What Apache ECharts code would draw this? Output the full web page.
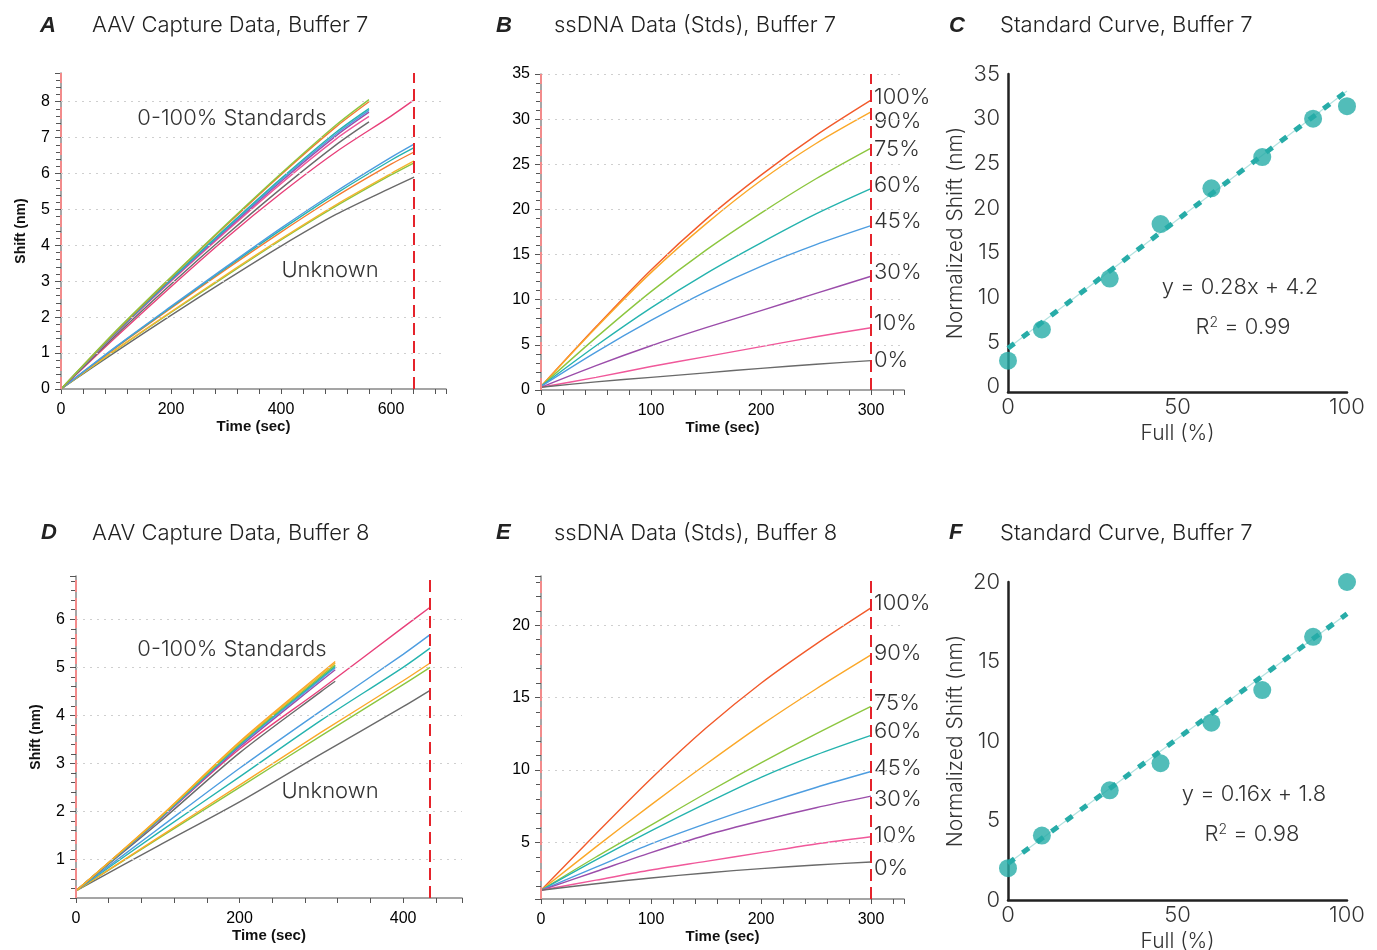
<!DOCTYPE html>
<html>
<head>
<meta charset="utf-8">
<script src="https://cdn.jsdelivr.net/npm/echarts@6/dist/echarts.min.js"></script>
<style>
  html, body { margin: 0; padding: 0; background: #fff; }
  #main { width: 1377px; height: 950px; }
</style>
</head>
<body>
<div id="main"></div>
<script>
// ---- data ----
// A: AAV capture, buffer 7
var aTimeStd = [0, 100, 200, 300, 400, 500, 560];
var aStdGreen = [0, 1.62, 3.12, 4.58, 6.0, 7.35, 8.06];
var aStdOrange = [0, 1.6, 3.1, 4.55, 5.97, 7.3, 8.0];
var aStdTeal = [0, 1.58, 3.06, 4.48, 5.86, 7.15, 7.81];
var aStdBlue = [0, 1.57, 3.04, 4.45, 5.82, 7.1, 7.76];
var aStdPurple = [0, 1.56, 3.02, 4.42, 5.78, 7.05, 7.71];
var aStdPink = [0, 1.55, 3.0, 4.38, 5.72, 6.96, 7.59];
var aStdGray = [0, 1.5, 2.92, 4.28, 5.58, 6.8, 7.44];
var aTimeUnk = [0, 100, 200, 300, 400, 500, 600, 642];
var aUnkMagenta = [0, 1.45, 2.85, 4.2, 5.45, 6.6, 7.6, 8.05];
var aUnkBlue = [0, 1.18, 2.3, 3.4, 4.48, 5.5, 6.45, 6.82];
var aUnkTeal = [0, 1.17, 2.28, 3.37, 4.43, 5.44, 6.37, 6.72];
var aUnkOrange = [0, 1.15, 2.25, 3.33, 4.37, 5.36, 6.26, 6.6];
var aUnkYellow = [0, 1.1, 2.15, 3.18, 4.18, 5.13, 6.0, 6.35];
var aUnkGreen = [0, 1.09, 2.13, 3.15, 4.15, 5.09, 5.96, 6.3];
var aUnkGray = [0, 1.04, 2.05, 3.03, 3.98, 4.86, 5.6, 5.9];
var aYTicks = [1, 2, 3, 4, 5, 6, 7, 8];

// B: ssDNA standards, buffer 7
var pctNames = ['100%', '90%', '75%', '60%', '45%', '30%', '10%', '0%'];
var bTime = [0, 50, 100, 150, 200, 250, 300];
var b100 = [0.4, 7.0, 13.3, 18.9, 23.8, 28.2, 32.1];
var b90 = [0.4, 6.9, 13.0, 18.4, 23.2, 27.3, 30.8];
var b75 = [0.4, 5.8, 10.9, 15.5, 19.6, 23.4, 26.8];
var b60 = [0.4, 4.9, 9.1, 12.9, 16.3, 19.5, 22.3];
var b45 = [0.4, 4.2, 7.7, 10.9, 13.7, 16.1, 18.2];
var b30 = [0.3, 2.7, 4.9, 6.9, 8.8, 10.7, 12.6];
var b10 = [0.3, 1.4, 2.6, 3.7, 4.8, 5.9, 6.9];
var b0 = [0.3, 0.9, 1.4, 1.9, 2.4, 2.85, 3.25];
var bYTicks = [5, 10, 15, 20, 25, 30, 35];

// C / F: standard curves
var fullPct = [0, 10, 30, 45, 60, 75, 90, 100];
var cShift = [2.9, 6.4, 12.1, 18.2, 22.2, 25.7, 30.0, 31.4];
var fitX = [0, 100];
var cFitY = [4.3, 33.1];
var fShift = [2.0, 4.05, 6.9, 8.6, 11.15, 13.2, 16.55, 20.0];
var fFitY = [2.3, 18.0];

// D: AAV capture, buffer 8
var dTimeStd = [0, 100, 200, 300, 317];
var dStdOrange = [0.35, 1.85, 3.45, 4.88, 5.12];
var dStdYellow = [0.35, 1.84, 3.43, 4.85, 5.09];
var dStdGreen = [0.35, 1.83, 3.41, 4.82, 5.05];
var dStdTeal = [0.35, 1.82, 3.39, 4.79, 5.02];
var dStdBlue = [0.35, 1.81, 3.37, 4.76, 4.99];
var dStdPurple = [0.35, 1.8, 3.34, 4.72, 4.95];
var dStdGray = [0.35, 1.75, 3.22, 4.5, 4.71];
var dTimeUnk = [0, 100, 200, 300, 400, 433];
var dUnkPink = [0.35, 1.8, 3.3, 4.55, 5.83, 6.25];
var dUnkBlue = [0.35, 1.63, 2.9, 4.1, 5.27, 5.68];
var dUnkTeal = [0.35, 1.55, 2.72, 3.9, 5.0, 5.4];
var dUnkOrange = [0.35, 1.45, 2.55, 3.65, 4.72, 5.09];
var dUnkGreen = [0.35, 1.43, 2.5, 3.58, 4.64, 5.0];
var dUnkGray = [0.35, 1.28, 2.2, 3.2, 4.18, 4.52];
var dYTicks = [1, 2, 3, 4, 5, 6];

// E: ssDNA standards, buffer 8
var eTime = [0, 50, 100, 150, 200, 250, 300];
var e100 = [1.7, 5.6, 9.4, 12.9, 16.0, 18.7, 21.2];
var e90 = [1.7, 4.7, 7.6, 10.4, 13.1, 15.6, 17.95];
var e75 = [1.7, 4.0, 6.2, 8.4, 10.5, 12.5, 14.4];
var e60 = [1.7, 3.8, 5.8, 7.7, 9.5, 11.05, 12.4];
var e45 = [1.7, 3.3, 4.9, 6.3, 7.6, 8.8, 9.9];
var e30 = [1.7, 3.0, 4.3, 5.5, 6.5, 7.4, 8.2];
var e10 = [1.7, 2.4, 3.1, 3.7, 4.3, 4.9, 5.4];
var e0 = [1.7, 2.15, 2.55, 2.9, 3.2, 3.45, 3.65];
var eYTicks = [5, 10, 15, 20];

// ---- styles ----
var SANS = '"Liberation Sans", Arial, sans-serif';
var LIGHT = 'Inter, Lato, "Noto Sans", sans-serif';
var RED = '#f25a2b', ORANGE = '#fba829', YELLOW = '#f3b531', GREEN = '#8cc63f',
    TEAL = '#25b3ae', BLUE = '#4d9de0', PURPLE = '#9b4daa', PINK = '#f0589a',
    MAGENTA = '#e8407a', GRAY = '#6a6a6a', FIT = '#27aca8';
var pctColors = [RED, ORANGE, GREEN, TEAL, BLUE, PURPLE, PINK, GRAY];

function pairs(t, v) {
    return t.map(function (x, i) { return [x, v[i]]; });
}
function onlyStep(step) {
    return function (v) {
        var k = v / step;
        return Math.abs(k - Math.round(k)) < 1e-6 && v >= 0 ? String(Math.round(k) * step) : '';
    };
}

function kinX(idx, max, step) {
    return {
        gridIndex: idx, type: 'value', min: 0, max: max, minInterval: step, maxInterval: step,
        name: 'Time (sec)', nameLocation: 'middle', nameGap: 30,
        nameTextStyle: { fontFamily: SANS, fontSize: 15, fontWeight: 'bold', color: '#111' },
        axisLine: { onZero: false, lineStyle: { color: '#888', width: 1.5 } },
        axisTick: { length: 5, lineStyle: { color: '#555' } },
        minorTick: { show: true, splitNumber: 5, length: 5, lineStyle: { color: '#555' } },
        axisLabel: { fontFamily: SANS, fontSize: 16, color: '#000', margin: 13, formatter: onlyStep(step) },
        splitLine: { show: false }
    };
}
function kinY(idx, min, max, step, name) {
    return {
        gridIndex: idx, type: 'value', min: min, max: max, minInterval: step, maxInterval: step,
        name: name, nameLocation: 'middle', nameGap: 33,
        nameTextStyle: { fontFamily: SANS, fontSize: 14, fontWeight: 'bold', color: '#111' },
        axisLine: { onZero: false, lineStyle: { color: '#888', width: 1.5 } },
        axisTick: { length: 6, lineStyle: { color: '#555' } },
        minorTick: { show: true, splitNumber: 5, length: 5, lineStyle: { color: '#555' } },
        axisLabel: { fontFamily: SANS, fontSize: 16, color: '#000', margin: 11, formatter: onlyStep(step) },
        splitLine: { show: false }
    };
}
function curveX(idx, max, step) {
    return {
        gridIndex: idx, type: 'value', min: 0, max: max, minInterval: step, maxInterval: step,
        name: 'Full (%)', nameLocation: 'middle', nameGap: 31,
        nameTextStyle: { fontFamily: LIGHT, fontWeight: 300, fontSize: 21, color: '#333' },
        axisLine: { onZero: false, lineStyle: { color: '#222', width: 2.5 } },
        axisTick: { show: false },
        axisLabel: { fontFamily: LIGHT, fontWeight: 300, fontSize: 22, color: '#333', margin: 4, formatter: onlyStep(step) },
        splitLine: { show: false }
    };
}
function curveY(idx, min, max, step) {
    return {
        gridIndex: idx, type: 'value', min: min, max: max, minInterval: step, maxInterval: step,
        name: 'Normalized Shift (nm)', nameLocation: 'middle', nameGap: 42,
        nameTextStyle: { fontFamily: LIGHT, fontWeight: 300, fontSize: 21, color: '#333' },
        axisLine: { onZero: false, lineStyle: { color: '#222', width: 2.5 } },
        axisTick: { show: false },
        axisLabel: { fontFamily: LIGHT, fontWeight: 300, fontSize: 22, color: '#333', margin: 8, formatter: onlyStep(step) },
        splitLine: { show: false }
    };
}

var series = [];

function curve(idx, name, color, t, v, endLabel) {
    var s = {
        name: name, type: 'line', xAxisIndex: idx, yAxisIndex: idx,
        data: pairs(t, v), smooth: 0.3, showSymbol: false, symbol: 'none',
        lineStyle: { color: color, width: 1.4 }, z: 3, silent: true
    };
    if (endLabel !== undefined) {
        s.endLabel = {
            show: true, formatter: name, distance: 3, offset: [0, endLabel],
            fontFamily: LIGHT, fontWeight: 300, fontSize: 22, color: '#333'
        };
    }
    series.push(s);
}

// dotted grid lines under the curves, red dashed markers over them
function guides(idx, t, v, yTicks, tEnd) {
    series.push({
        type: 'line', xAxisIndex: idx, yAxisIndex: idx, data: pairs(t, v), symbol: 'none',
        lineStyle: { opacity: 0 }, z: 1, silent: true,
        markLine: {
            silent: true, symbol: 'none', label: { show: false },
            lineStyle: { color: '#cfcfcf', width: 1, type: [2, 5] },
            data: yTicks.map(function (y) { return { yAxis: y }; })
        }
    });
    series.push({
        type: 'line', xAxisIndex: idx, yAxisIndex: idx, data: pairs(t, v), symbol: 'none',
        lineStyle: { opacity: 0 }, z: 5, silent: true,
        markLine: {
            silent: true, symbol: 'none', label: { show: false },
            lineStyle: { width: 2, type: [12, 6] },
            data: [
                { xAxis: 0, lineStyle: { color: '#f28b8b' } },
                { xAxis: tEnd, lineStyle: { color: '#e5232b' } }
            ]
        }
    });
}

// A
guides(0, aTimeStd, aStdGreen, aYTicks, aTimeUnk[aTimeUnk.length - 1]);
curve(0, 'A unk gray', GRAY, aTimeUnk, aUnkGray);
curve(0, 'A unk green', GREEN, aTimeUnk, aUnkGreen);
curve(0, 'A unk yellow', YELLOW, aTimeUnk, aUnkYellow);
curve(0, 'A unk orange', '#f47a30', aTimeUnk, aUnkOrange);
curve(0, 'A unk teal', TEAL, aTimeUnk, aUnkTeal);
curve(0, 'A unk blue', BLUE, aTimeUnk, aUnkBlue);
curve(0, 'A unk magenta', MAGENTA, aTimeUnk, aUnkMagenta);
curve(0, 'A std gray', GRAY, aTimeStd, aStdGray);
curve(0, 'A std pink', PINK, aTimeStd, aStdPink);
curve(0, 'A std purple', PURPLE, aTimeStd, aStdPurple);
curve(0, 'A std blue', BLUE, aTimeStd, aStdBlue);
curve(0, 'A std teal', TEAL, aTimeStd, aStdTeal);
curve(0, 'A std orange', '#f47a30', aTimeStd, aStdOrange);
curve(0, 'A std green', GREEN, aTimeStd, aStdGreen);

// B
guides(1, bTime, b100, bYTicks, bTime[bTime.length - 1]);
var bSets = [b100, b90, b75, b60, b45, b30, b10, b0];
var bOffsets = [-3, 9, 1, -3, -4, -4, -4, 0];
bSets.forEach(function (v, i) { curve(1, pctNames[i], pctColors[i], bTime, v, bOffsets[i]); });

// C
series.push({ type: 'line', xAxisIndex: 2, yAxisIndex: 2, data: pairs(fitX, cFitY), symbol: 'none',
    lineStyle: { color: '#b3e2e0', width: 1.2 }, z: 2, silent: true });
series.push({ type: 'line', xAxisIndex: 2, yAxisIndex: 2, data: pairs(fitX, cFitY), symbol: 'none',
    lineStyle: { color: FIT, width: 5, type: [8, 10], cap: 'butt' }, z: 2, silent: true });
series.push({ type: 'scatter', xAxisIndex: 2, yAxisIndex: 2, data: pairs(fullPct, cShift),
    symbolSize: 18, itemStyle: { color: FIT }, z: 3, silent: true, clip: false });

// D
guides(3, dTimeUnk, dUnkPink, dYTicks, dTimeUnk[dTimeUnk.length - 1]);
curve(3, 'D unk gray', GRAY, dTimeUnk, dUnkGray);
curve(3, 'D unk green', GREEN, dTimeUnk, dUnkGreen);
curve(3, 'D unk orange', ORANGE, dTimeUnk, dUnkOrange);
curve(3, 'D unk teal', TEAL, dTimeUnk, dUnkTeal);
curve(3, 'D unk blue', BLUE, dTimeUnk, dUnkBlue);
curve(3, 'D unk pink', MAGENTA, dTimeUnk, dUnkPink);
curve(3, 'D std gray', GRAY, dTimeStd, dStdGray);
curve(3, 'D std purple', PURPLE, dTimeStd, dStdPurple);
curve(3, 'D std blue', BLUE, dTimeStd, dStdBlue);
curve(3, 'D std teal', TEAL, dTimeStd, dStdTeal);
curve(3, 'D std green', GREEN, dTimeStd, dStdGreen);
curve(3, 'D std yellow', YELLOW, dTimeStd, dStdYellow);
curve(3, 'D std orange', ORANGE, dTimeStd, dStdOrange);

// E
guides(4, eTime, e100, eYTicks, eTime[eTime.length - 1]);
var eSets = [e100, e90, e75, e60, e45, e30, e10, e0];
var eOffsets = [-4, -2, -3, -4, -3, 3, -1, 6];
eSets.forEach(function (v, i) { curve(4, pctNames[i], pctColors[i], eTime, v, eOffsets[i]); });

// F
series.push({ type: 'line', xAxisIndex: 5, yAxisIndex: 5, data: pairs(fitX, fFitY), symbol: 'none',
    lineStyle: { color: '#b3e2e0', width: 1.2 }, z: 2, silent: true });
series.push({ type: 'line', xAxisIndex: 5, yAxisIndex: 5, data: pairs(fitX, fFitY), symbol: 'none',
    lineStyle: { color: FIT, width: 5, type: [8, 10], cap: 'butt' }, z: 2, silent: true });
series.push({ type: 'scatter', xAxisIndex: 5, yAxisIndex: 5, data: pairs(fullPct, fShift),
    symbolSize: 18, itemStyle: { color: FIT }, z: 3, silent: true, clip: false });

// ---- text: panel letters, titles, annotations ----
function txt(x, y, text, font, align, color) {
    return { type: 'text', x: x, y: y, silent: true,
        style: { text: text, font: font, fill: color || '#222', textAlign: align || 'left', textVerticalAlign: 'middle' } };
}
function richTxt(x, y, text) {
    return { type: 'text', x: x, y: y, silent: true,
        style: { text: text, textAlign: 'center', textVerticalAlign: 'middle',
            rich: {
                n: { fontFamily: LIGHT, fontWeight: 300, fontSize: 22, fill: '#333', color: '#333' },
                s: { fontFamily: LIGHT, fontWeight: 300, fontSize: 14, fill: '#333', color: '#333', verticalAlign: 'top', padding: [0, 0, 8, 0] }
            } } };
}
var LETTER = 'italic bold 22px ' + SANS;
var TITLE = '300 22px ' + LIGHT;
var NOTE = '300 22px ' + LIGHT;

var graphics = [
    txt(40, 26, 'A', LETTER), txt(92, 25, 'AAV Capture Data, Buffer 7', TITLE),
    txt(496, 26, 'B', LETTER), txt(554, 25, 'ssDNA Data (Stds), Buffer 7', TITLE),
    txt(949, 26, 'C', LETTER), txt(1000, 25, 'Standard Curve, Buffer 7', TITLE),
    txt(41, 533, 'D', LETTER), txt(92, 533, 'AAV Capture Data, Buffer 8', TITLE),
    txt(496, 533, 'E', LETTER), txt(554, 533, 'ssDNA Data (Stds), Buffer 8', TITLE),
    txt(949, 533, 'F', LETTER), txt(1000, 533, 'Standard Curve, Buffer 7', TITLE),
    txt(232, 118, '0-100% Standards', NOTE, 'center', '#333'),
    txt(330, 270, 'Unknown', NOTE, 'center', '#333'),
    txt(232, 649, '0-100% Standards', NOTE, 'center', '#333'),
    txt(330, 791, 'Unknown', NOTE, 'center', '#333'),
    txt(1240, 287, 'y = 0.28x + 4.2', NOTE, 'center', '#333'),
    richTxt(1243, 327, '{n|R}{s|2}{n| = 0.99}'),
    txt(1254, 794, 'y = 0.16x + 1.8', NOTE, 'center', '#333'),
    richTxt(1252, 834, '{n|R}{s|2}{n| = 0.98}')
];

var option = {
    animation: false,
    backgroundColor: '#fff',
    grid: [
        { left: 61, top: 73, width: 385, height: 316, outerBoundsMode: 'none' },
        { left: 541, top: 74, width: 363, height: 316, outerBoundsMode: 'none' },
        { left: 1008, top: 74, width: 339, height: 318, outerBoundsMode: 'none' },
        { left: 76, top: 576, width: 386, height: 322, outerBoundsMode: 'none' },
        { left: 541, top: 576, width: 363, height: 323, outerBoundsMode: 'none' },
        { left: 1008, top: 582, width: 339, height: 318, outerBoundsMode: 'none' }
    ],
    xAxis: [
        kinX(0, 700, 200),
        kinX(1, 330, 100),
        curveX(2, 100, 50),
        kinX(3, 472, 200),
        kinX(4, 330, 100),
        curveX(5, 100, 50)
    ],
    yAxis: [
        kinY(0, 0, 8.8, 1, 'Shift (nm)'),
        kinY(1, 0, 35, 5, ''),
        curveY(2, -0.6, 35, 5),
        kinY(3, 0.2, 6.9, 1, 'Shift (nm)'),
        kinY(4, 1.1, 23.4, 5, ''),
        curveY(5, 0, 20, 5)
    ],
    graphic: graphics,
    series: series
};

var chart = echarts.init(document.getElementById('main'), null, { renderer: 'canvas' });
chart.setOption(option);
</script>
</body>
</html>
